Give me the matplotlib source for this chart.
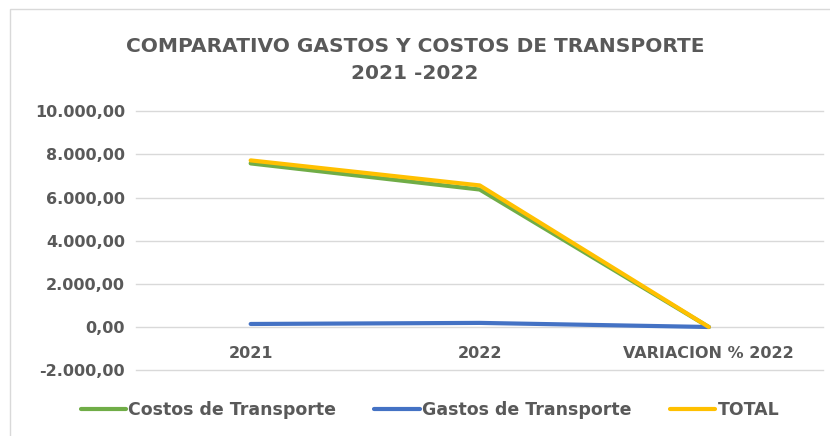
import matplotlib.pyplot as plt
from matplotlib.patches import Rectangle
from matplotlib.ticker import FuncFormatter

categories = ['2021', '2022', 'VARIACION % 2022']
costos = [7580, 6370, 0]
gastos = [140, 190, 0]
total = [7720, 6560, 0]

plt.rcParams['font.family'] = ['DejaVu Sans']

fig = plt.figure(figsize=(8.3, 4.36), dpi=100)
ax = fig.add_axes([0.164, 0.151, 0.828, 0.594])

x = range(len(categories))
ax.plot(x, costos, color='#70AD47', lw=3, label='Costos de Transporte', solid_capstyle='round')
ax.plot(x, gastos, color='#4472C4', lw=3, label='Gastos de Transporte', solid_capstyle='round')
ax.plot(x, total, color='#FFC000', lw=3, label='TOTAL', solid_capstyle='round')

ax.set_xlim(-0.5, 2.5)
ax.set_ylim(-2000, 10000)
ax.set_yticks(range(-2000, 10001, 2000))


def fmt(v, pos):
    s = f'{v:,.2f}'
    return s.replace(',', 'X').replace('.', ',').replace('X', '.')


ax.yaxis.set_major_formatter(FuncFormatter(fmt))
ax.grid(axis='y', color='#D9D9D9', lw=1, clip_on=False)
ax.set_axisbelow(True)
for s in ['top', 'right', 'left']:
    ax.spines[s].set_visible(False)
ax.spines['bottom'].set_position(('data', 0))
ax.spines['bottom'].set_visible(False)
ax.set_xticks(list(x))
ax.set_xticklabels(categories)
ax.tick_params(axis='x', length=0, pad=14, labelsize=11.5, labelcolor='#595959')
ax.tick_params(axis='y', length=0, pad=8, labelsize=11.5, labelcolor='#595959')
for lab in ax.get_xticklabels() + ax.get_yticklabels():
    lab.set_fontweight('bold')

fig.suptitle('COMPARATIVO GASTOS Y COSTOS DE TRANSPORTE\n2021 -2022', y=0.915,
             fontsize=14.5, fontweight='bold', color='#595959', linespacing=1.5)

leg = fig.legend(loc='center', bbox_to_anchor=(0.518, 0.06), ncol=3, frameon=False,
                 handlelength=2.6, columnspacing=2.2, handletextpad=0.15,
                 prop={'size': 12.5, 'weight': 'bold'})
for t in leg.get_texts():
    t.set_color('#595959')

fig.patches.append(Rectangle((0.012, -0.01), 1.0, 0.99, transform=fig.transFigure,
                             fill=False, edgecolor='#D9D9D9', lw=1))

fig.savefig('out.png', dpi=100)
